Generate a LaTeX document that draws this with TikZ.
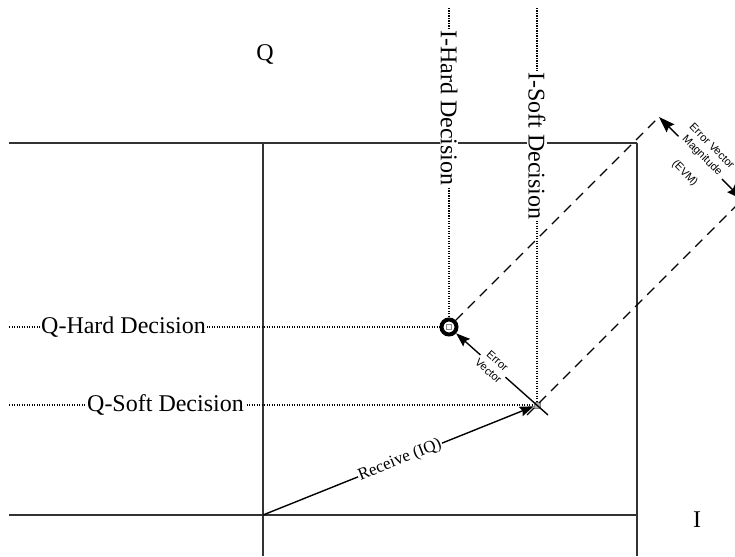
\documentclass[tikz,border=0pt]{standalone}
\usepackage{fontspec}
\setmainfont{Liberation Serif}
\newfontfamily\evmfont{Liberation Sans}
\usetikzlibrary{arrows.meta}
\begin{document}
\begin{tikzpicture}[x=1pt,y=-1pt,
  axis/.style={line width=1.5pt, draw=black!80},
  guide/.style={line width=1.2pt, dash pattern=on 1.2pt off 1.3pt},
  ext/.style={line width=1.3pt, dash pattern=on 10pt off 7pt},
  vec/.style={line width=1.4pt, -{Stealth[length=14pt,width=10pt,inset=2pt]}},
  bigtext/.style={font=\fontsize{24}{26}\selectfont, fill=white, inner sep=1pt},
  smalltext/.style={font=\evmfont\fontsize{11}{13.5}\selectfont, fill=white, inner sep=1pt, align=center},
  recvtext/.style={font=\fontsize{17}{19}\selectfont, fill=white, inner sep=1pt}
]
\useasboundingbox (0,0) rectangle (735,556);
% frame coordinates
\coordinate (tl) at (9,143);
\coordinate (tm) at (263,143);
\coordinate (tr) at (637,143);
\coordinate (bl) at (9,515);
\coordinate (o) at (263,515);
\coordinate (br) at (637,515);
\coordinate (lb) at (263,556);
\coordinate (rb) at (637,556);
% guide line ends
\coordinate (qh0) at (9,327);
\coordinate (qs0) at (9,405);
\coordinate (ih0) at (449,8);
\coordinate (is0) at (537,8);
% EVM ends
\coordinate (evmA) at (659,117);
\coordinate (evmB) at (742.5,199.5);
\coordinate (evx) at (548,415);
\coordinate (sx) at (527,415);

% axes and grid
\draw[axis] (tl) -- (tr);
\draw[axis] (bl) -- (br);
\draw[axis] (tm) -- (lb);
\draw[axis] (tr) -- (rb);

% points
\node[draw=black!50, fill=black!30, minimum size=6pt, inner sep=0pt] (soft) at (537,405) {};
\node[circle, draw=black, line width=4pt, fill=white, minimum size=15pt, inner sep=0pt] (hard) at (449,327) {};
\node[draw=black!45, fill=white, minimum size=4.5pt, inner sep=0pt, line width=0.6pt] (hardc) at (hard) {};

% dotted guides
\draw[guide] (qh0) -- (hard);
\draw[guide] (qs0) -- (soft);
\draw[guide] (ih0) -- (hard);
\draw[guide] (is0) -- (soft);

% dashed extension lines
\draw[ext] (hard) -- (evmA);
\draw[ext] (sx) -- (evmB);

% vectors
\draw[vec] (o) -- (soft);
\draw[vec] (evx) -- (hard);
\draw[line width=1.4pt, {Stealth[length=16pt,width=11pt,inset=2pt]}-{Stealth[length=16pt,width=11pt,inset=2pt]}] (evmA) -- (evmB);

% labels
\node[bigtext] (lqh) at (123.5,327) {Q-Hard Decision};
\node[bigtext] (lqs) at (165.5,405) {Q-Soft Decision};
\node[bigtext, rotate=-90] (lih) at (449,108) {I-Hard Decision};
\node[bigtext, rotate=-90] (lis) at (537,146) {I-Soft Decision};
\node[font=\fontsize{24}{26}\selectfont] (lq) at (265,55) {Q};
\node[font=\fontsize{24}{26}\selectfont] (li) at (697,520) {I};
\node[recvtext, rotate=21.9] (lrx) at (400,460) {Receive (IQ)};
\node[smalltext, rotate=-41.6] (lev) at (493,366) {Error\\Vector};
\node[smalltext, rotate=-45] (levm) at (698,160) {Error Vector\\Magnitude\\[11pt](EVM)};
\end{tikzpicture}
\end{document}
